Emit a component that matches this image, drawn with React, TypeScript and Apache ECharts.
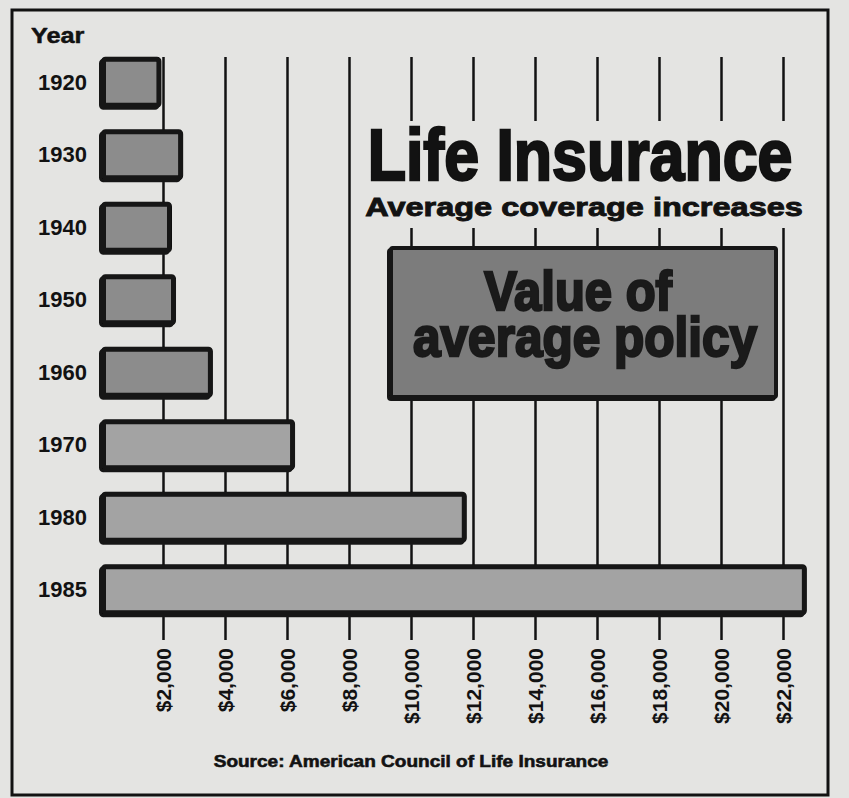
import { useEffect, useRef } from 'react';
import * as echarts from 'echarts';

const years = ['1920', '1930', '1940', '1950', '1960', '1970', '1980', '1985'];
const policyValues = [1950, 2650, 2290, 2420, 3610, 6260, 11800, 22770];
const axisMin = 2000;
const axisMax = 22000;
const axisStep = 2000;
const titleText = 'Life Insurance';
const subtitleText = 'Average coverage increases';
const boxLines = ['Value of', 'average policy'];
const yearHeader = 'Year';
const sourceText = 'Source: American Council of Life Insurance';

const FONT = '"Liberation Sans", Arial, Helvetica, sans-serif';
const BG = '#e4e4e2';
const INK = '#121212';

export default function App() {
  const ref = useRef<HTMLDivElement>(null);
  useEffect(() => {
    if (!ref.current) return;
    const chart = echarts.init(ref.current, undefined, { renderer: 'svg' });
    chart.setOption({
      animation: false,
      backgroundColor: BG,
      grid: [
        { left: 101, width: 713, top: 46, height: 580 },
        { left: 163, width: 620, top: 57, height: 583 },
      ],
      xAxis: [
        { type: 'value', gridIndex: 0, min: 0, max: 23000, show: false },
        {
          type: 'value',
          gridIndex: 1,
          min: axisMin,
          max: axisMax,
          interval: axisStep,
          position: 'bottom',
          axisLine: { show: false },
          axisTick: { show: false },
          splitLine: { show: true, lineStyle: { color: INK, width: 2.5 } },
          axisLabel: {
            rotate: 90,
            margin: 8,
            fontSize: 21,
            fontWeight: 'bold',
            fontFamily: FONT,
            color: INK,
            formatter: (v: number) => '$' + v.toLocaleString('en-US'),
          },
        },
      ],
      yAxis: [
        {
          type: 'category',
          gridIndex: 0,
          data: years,
          inverse: true,
          axisLine: { show: false },
          axisTick: { show: false },
          axisLabel: {
            margin: 14,
            fontSize: 22,
            fontWeight: 'bold',
            fontFamily: FONT,
            color: INK,
          },
        },
        { type: 'value', gridIndex: 1, show: false, min: 0, max: 1 },
      ],
      series: [
        {
          type: 'bar',
          xAxisIndex: 0,
          yAxisIndex: 0,
          data: policyValues,
          barWidth: 51,
          z: 3,
          itemStyle: {
            color: (p: any) => (p.dataIndex < 5 ? '#8c8c8c' : '#a3a3a3'),
            borderColor: INK,
            borderWidth: 5,
            borderRadius: 2,
            shadowColor: INK,
            shadowOffsetX: -2,
            shadowOffsetY: 2,
            shadowBlur: 0,
          },
        },
        { type: 'scatter', xAxisIndex: 1, yAxisIndex: 1, data: [] },
      ],
      graphic: [
        {
          type: 'rect',
          z: 10,
          shape: { x: 356, y: 121, width: 458, height: 107 },
          style: { fill: BG },
        },
        {
          type: 'text',
          z: 11,
          x: 580,
          y: 155,
          scaleX: 0.87,
          style: {
            text: titleText,
            font: `bold 72px ${FONT}`,
            fill: INK,
            stroke: INK,
            lineWidth: 2.5,
            align: 'center',
            verticalAlign: 'middle',
          },
        },
        {
          type: 'text',
          z: 11,
          x: 584,
          y: 207,
          scaleX: 1.25,
          style: {
            text: subtitleText,
            font: `bold 26px ${FONT}`,
            fill: INK,
            stroke: INK,
            lineWidth: 0.9,
            align: 'center',
            verticalAlign: 'middle',
          },
        },
        {
          type: 'rect',
          z: 10,
          shape: { x: 391, y: 248, width: 385, height: 149, r: 2 },
          style: {
            fill: '#7b7b7b',
            stroke: INK,
            lineWidth: 4,
            shadowColor: INK,
            shadowOffsetX: -2,
            shadowOffsetY: 2,
            shadowBlur: 0,
          },
        },
        {
          type: 'text',
          z: 11,
          x: 578,
          y: 291,
          scaleX: 0.89,
          style: {
            text: boxLines[0],
            font: `bold 55px ${FONT}`,
            fill: '#1a1a1a',
            stroke: '#1a1a1a',
            lineWidth: 2.5,
            align: 'center',
            verticalAlign: 'middle',
          },
        },
        {
          type: 'text',
          z: 11,
          x: 585,
          y: 337,
          scaleX: 0.9,
          style: {
            text: boxLines[1],
            font: `bold 55px ${FONT}`,
            fill: '#1a1a1a',
            stroke: '#1a1a1a',
            lineWidth: 2.5,
            align: 'center',
            verticalAlign: 'middle',
          },
        },
        {
          type: 'text',
          z: 11,
          x: 31,
          y: 36,
          scaleX: 1.15,
          style: {
            text: yearHeader,
            font: `bold 22px ${FONT}`,
            fill: INK,
            stroke: INK,
            lineWidth: 0.5,
            align: 'left',
            verticalAlign: 'middle',
          },
        },
        {
          type: 'text',
          z: 11,
          x: 411,
          y: 761,
          scaleX: 1.12,
          style: {
            text: sourceText,
            font: `bold 17px ${FONT}`,
            fill: INK,
            stroke: INK,
            lineWidth: 0.6,
            align: 'center',
            verticalAlign: 'middle',
          },
        },
        {
          type: 'rect',
          z: 20,
          shape: { x: 12, y: 10, width: 816, height: 785 },
          style: { fill: 'none', stroke: INK, lineWidth: 3 },
        },
      ],
    });
    return () => chart.dispose();
  }, []);
  return (
    <div
      ref={ref}
      style={{ position: 'absolute', left: 0, top: 0, width: 849, height: 798 }}
    />
  );
}
